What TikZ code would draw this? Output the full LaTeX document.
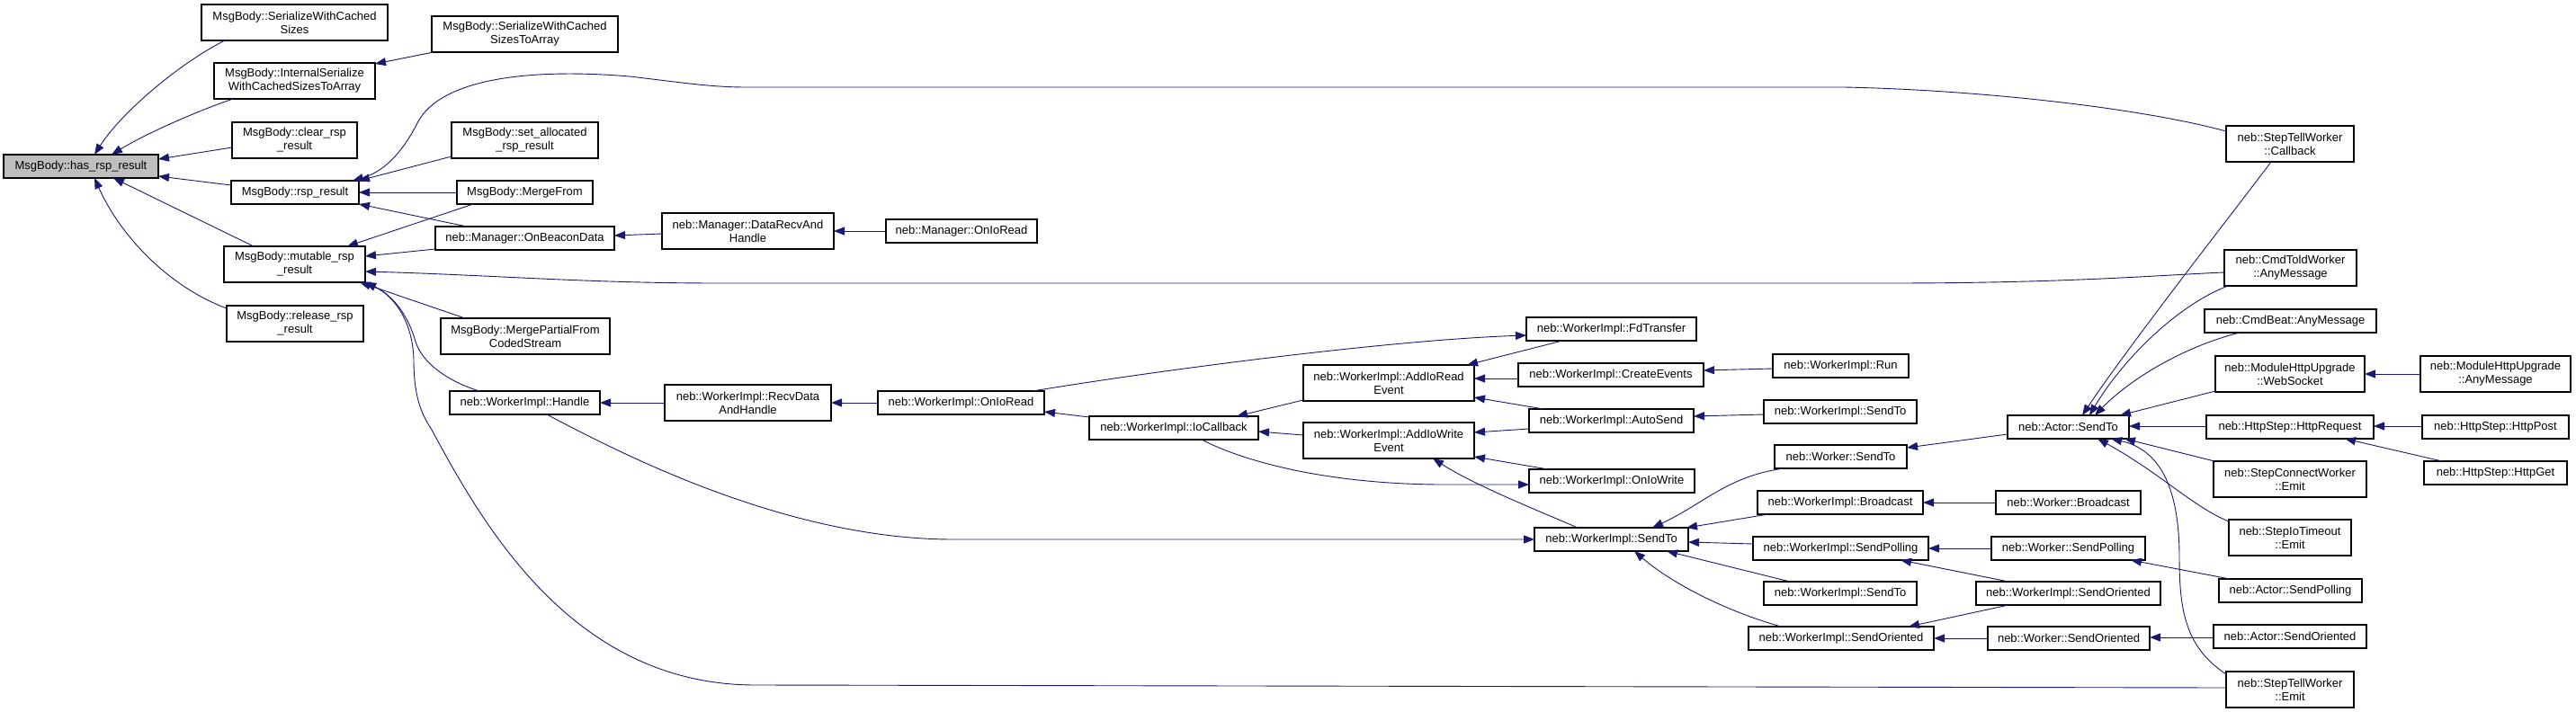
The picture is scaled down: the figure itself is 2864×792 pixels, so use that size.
\documentclass[tikz,border=0pt]{standalone}
\usepackage{fontspec}
\setmainfont{Liberation Sans}
\usetikzlibrary{arrows.meta,calc}
\definecolor{edgeblue}{HTML}{191970}
\definecolor{hilite}{HTML}{BFBFBF}
\tikzset{
 box/.style={draw=black, line width=1.1pt, fill=white, rectangle, inner sep=0pt, outer sep=0pt, align=center, font=\fontsize{13}{15}\selectfont},
 cur/.style={box, fill=hilite},
 edge/.style={draw=edgeblue, line width=0.9pt, {Triangle[length=12pt,width=9pt]}-},
}
\newcommand\nd[7]{\node[#1, minimum width={(#5-#3)*1pt}, minimum height={(#6-#4)*1pt}] (#2) at ({(#3+#5)/2},{(#4+#6)/2}) {#7};}
\begin{document}
\begin{tikzpicture}[x=1pt,y=-1pt]
\fill[white] (0,0) rectangle (2864,792);
\useasboundingbox (0,0) rectangle (2864,792);
\nd{cur}{has}{4}{172}{176}{198}{MsgBody::has\_rsp\_result}
\nd{box}{swcs}{224}{5}{431}{45}{MsgBody::SerializeWithCached\\Sizes}
\nd{box}{isw}{238}{70}{417}{110}{MsgBody::InternalSerialize\\WithCachedSizesToArray}
\nd{box}{clear}{258}{136}{397}{176}{MsgBody::clear\_rsp\\\_result}
\nd{box}{rsp}{257}{201}{399}{227}{MsgBody::rsp\_result}
\nd{box}{mut}{249}{274}{406}{314}{MsgBody::mutable\_rsp\\\_result}
\nd{box}{rel}{252}{340}{404}{380}{MsgBody::release\_rsp\\\_result}
\nd{box}{swcsta}{480}{18}{687}{58}{MsgBody::SerializeWithCached\\SizesToArray}
\nd{box}{setalloc}{502}{136}{665}{176}{MsgBody::set\_allocated\\\_rsp\_result}
\nd{box}{mergefrom}{508}{201}{659}{227}{MsgBody::MergeFrom}
\nd{box}{onbeacon}{484}{252}{683}{278}{neb::Manager::OnBeaconData}
\nd{box}{mergepartial}{490}{354}{678}{394}{MsgBody::MergePartialFrom\\CodedStream}
\nd{box}{handle}{500}{435}{667}{461}{neb::WorkerImpl::Handle}
\nd{box}{datarecv}{736}{237}{927}{277}{neb::Manager::DataRecvAnd\\Handle}
\nd{box}{mgronioread}{985}{244}{1153}{270}{neb::Manager::OnIoRead}
\nd{box}{recvdata}{739}{428}{924}{468}{neb::WorkerImpl::RecvData\\AndHandle}
\nd{box}{wionioread}{976}{435}{1161}{461}{neb::WorkerImpl::OnIoRead}
\nd{box}{iocallback}{1211}{463}{1399}{489}{neb::WorkerImpl::IoCallback}
\nd{box}{fdtransfer}{1697}{353}{1886}{379}{neb::WorkerImpl::FdTransfer}
\nd{box}{addread}{1449}{406}{1639}{446}{neb::WorkerImpl::AddIoRead\\Event}
\nd{box}{createevents}{1688}{404}{1894}{430}{neb::WorkerImpl::CreateEvents}
\nd{box}{run}{1971}{394}{2122}{420}{neb::WorkerImpl::Run}
\nd{box}{autosend}{1700}{455}{1883}{481}{neb::WorkerImpl::AutoSend}
\nd{box}{sendtoa}{1961}{445}{2131}{471}{neb::WorkerImpl::SendTo}
\nd{box}{addwrite}{1449}{470}{1639}{510}{neb::WorkerImpl::AddIoWrite\\Event}
\nd{box}{oniowrite}{1700}{522}{1884}{548}{neb::WorkerImpl::OnIoWrite}
\nd{box}{workersendto}{1973}{495}{2120}{521}{neb::Worker::SendTo}
\nd{box}{wibroadcast}{1954}{546}{2138}{572}{neb::WorkerImpl::Broadcast}
\nd{box}{sendtoc}{1706}{587}{1877}{613}{neb::WorkerImpl::SendTo}
\nd{box}{wisendpolling}{1949}{597}{2144}{623}{neb::WorkerImpl::SendPolling}
\nd{box}{sendtob}{1961}{647}{2131}{673}{neb::WorkerImpl::SendTo}
\nd{box}{wisoa}{1944}{697}{2150}{723}{neb::WorkerImpl::SendOriented}
\nd{box}{actorsendto}{2232}{462}{2367}{488}{neb::Actor::SendTo}
\nd{box}{websocket}{2463}{396}{2629}{436}{neb::ModuleHttpUpgrade\\::WebSocket}
\nd{box}{mhuany}{2691}{396}{2858}{436}{neb::ModuleHttpUpgrade\\::AnyMessage}
\nd{box}{httprequest}{2453}{462}{2639}{488}{neb::HttpStep::HttpRequest}
\nd{box}{httppost}{2693}{462}{2856}{488}{neb::HttpStep::HttpPost}
\nd{box}{httpget}{2695}{513}{2854}{539}{neb::HttpStep::HttpGet}
\nd{box}{stepconnect}{2461}{513}{2631}{553}{neb::StepConnectWorker\\::Emit}
\nd{box}{stepiotimeout}{2478}{578}{2614}{618}{neb::StepIoTimeout\\::Emit}
\nd{box}{workerbroadcast}{2219}{546}{2380}{572}{neb::Worker::Broadcast}
\nd{box}{workersendpolling}{2214}{597}{2385}{623}{neb::Worker::SendPolling}
\nd{box}{wisob}{2197}{647}{2402}{673}{neb::WorkerImpl::SendOriented}
\nd{box}{actorsendpolling}{2467}{644}{2626}{670}{neb::Actor::SendPolling}
\nd{box}{workersendoriented}{2210}{697}{2390}{723}{neb::Worker::SendOriented}
\nd{box}{actorsendoriented}{2461}{695}{2631}{721}{neb::Actor::SendOriented}
\nd{box}{steptellemit}{2475}{747}{2617}{787}{neb::StepTellWorker\\::Emit}
\nd{box}{callback}{2475}{140}{2617}{180}{neb::StepTellWorker\\::Callback}
\nd{box}{cmdtold}{2473}{278}{2620}{318}{neb::CmdToldWorker\\::AnyMessage}
\nd{box}{cmdbeat}{2451}{344}{2642}{370}{neb::CmdBeat::AnyMessage}
% edges
\draw[edge] ($(has.north west)+(101,0)$) .. controls (135,125) and (200,70) .. ($(swcs.north west)+(26,40)$);
\draw[edge] ($(has.north west)+(120,0)$) .. controls (160,150) and (215,125) .. ($(isw.north west)+(21,40)$);
\draw[edge] ($(has.north west)+(172,5)$) -- ($(clear.north west)+(0,28)$);
\draw[edge] ($(has.north west)+(172,24)$) -- ($(rsp.north west)+(0,5)$);
\draw[edge] ($(has.north west)+(122,26)$) -- ($(mut.north west)+(33,0)$);
\draw[edge] ($(has.north west)+(101,26)$) .. controls (135,265) and (190,320) .. ($(rel.north west)+(0,3)$);
\draw[edge] ($(isw.north west)+(179,1)$) -- ($(swcsta.north west)+(2,40)$);
\draw[edge] ($(rsp.north west)+(135,0)$) .. controls (430,190) and (450,165) .. (465,135) .. controls (490,90) and (580,75) .. (700,85) .. controls (760,92) and (790,97) .. (830,97) -- (2050,97) .. controls (2200,100) and (2380,120) .. ($(callback.north west)+(0,6)$);
\draw[edge] ($(rsp.north west)+(142,0)$) -- ($(setalloc.north west)+(0,38)$);
\draw[edge] ($(rsp.north west)+(142,13)$) -- ($(mergefrom.north west)+(0,13)$);
\draw[edge] ($(rsp.north west)+(142,26)$) -- ($(onbeacon.north west)+(35,0)$);
\draw[edge] ($(mut.north west)+(137,0)$) -- ($(mergefrom.north west)+(18,26)$);
\draw[edge] ($(mut.north west)+(157,11)$) -- ($(onbeacon.north west)+(0,25)$);
\draw[edge] ($(mut.north west)+(157,28)$) .. controls (550,306) and (650,315) .. (800,315) -- (2100,315) .. controls (2300,315) and (2400,306) .. ($(cmdtold.north west)+(0,25)$);
\draw[edge] ($(mut.north west)+(151,40)$) -- ($(mergepartial.north west)+(27,0)$);
\draw[edge] ($(mut.north west)+(157,40)$) .. controls (440,330) and (455,355) .. (462,380) .. controls (470,405) and (500,425) .. ($(handle.north west)+(33,0)$);
\draw[edge] ($(mut.north west)+(157,40)$) .. controls (440,330) and (459,360) .. (460,400) .. controls (460,440) and (468,460) .. (480,478) .. controls (540,590) and (640,762) .. (840,762) -- ($(steptellemit.north west)+(0,18)$);
\draw[edge] ($(onbeacon.north west)+(199,10)$) -- ($(datarecv.north west)+(0,23)$);
\draw[edge] ($(datarecv.north west)+(191,20)$) -- ($(mgronioread.north west)+(0,13)$);
\draw[edge] ($(handle.north west)+(167,13)$) -- ($(recvdata.north west)+(0,20)$);
\draw[edge] ($(sendtoc.north west)+(0,13)$) -- (1060,600) .. controls (880,600) and (700,510) .. ($(handle.north west)+(108,26)$);
\draw[edge] ($(recvdata.north west)+(185,20)$) -- ($(wionioread.north west)+(0,13)$);
\draw[edge] ($(wionioread.north west)+(185,23)$) -- ($(iocallback.north west)+(0,1)$);
\draw[edge] ($(fdtransfer.north west)+(0,20)$) .. controls (1550,378) and (1300,410) .. ($(wionioread.north west)+(172,0)$);
\draw[edge] ($(iocallback.north west)+(164,0)$) -- ($(addread.north west)+(0,39)$);
\draw[edge] ($(iocallback.north west)+(188,17)$) -- ($(addwrite.north west)+(0,14)$);
\draw[edge] ($(oniowrite.north west)+(0,17)$) -- (1600,539) .. controls (1470,538) and (1380,512) .. ($(iocallback.north west)+(125,26)$);
\draw[edge] ($(addread.north west)+(182,0)$) -- ($(fdtransfer.north west)+(40,26)$);
\draw[edge] ($(addread.north west)+(190,15)$) -- ($(createevents.north west)+(0,17)$);
\draw[edge] ($(createevents.north west)+(206,8)$) -- ($(run.north west)+(0,16)$);
\draw[edge] ($(addread.north west)+(190,36)$) -- ($(autosend.north west)+(16,0)$);
\draw[edge] ($(addwrite.north west)+(190,11)$) -- ($(autosend.north west)+(0,22)$);
\draw[edge] ($(autosend.north west)+(183,8)$) -- ($(sendtoa.north west)+(0,16)$);
\draw[edge] ($(addwrite.north west)+(190,38)$) -- ($(oniowrite.north west)+(21,0)$);
\draw[edge] ($(addwrite.north west)+(144,40)$) .. controls (1640,540) and (1710,568) .. ($(sendtoc.north west)+(48,0)$);
\draw[edge] ($(sendtoc.north west)+(131,0)$) .. controls (1895,560) and (1920,530) .. ($(workersendto.north west)+(10,26)$);
\draw[edge] ($(sendtoc.north west)+(169,0)$) -- ($(wibroadcast.north west)+(12,26)$);
\draw[edge] ($(sendtoc.north west)+(171,16)$) -- ($(wisendpolling.north west)+(0,8)$);
\draw[edge] ($(sendtoc.north west)+(147,26)$) -- ($(sendtob.north west)+(29,0)$);
\draw[edge] ($(sendtoc.north west)+(111,26)$) .. controls (1860,650) and (1920,680) .. ($(wisoa.north west)+(36,0)$);
\draw[edge] ($(workersendto.north west)+(147,3)$) -- ($(actorsendto.north west)+(0,21)$);
\draw[edge] ($(wibroadcast.north west)+(184,13)$) -- ($(workerbroadcast.north west)+(0,13)$);
\draw[edge] ($(wisendpolling.north west)+(195,13)$) -- ($(workersendpolling.north west)+(0,13)$);
\draw[edge] ($(wisendpolling.north west)+(164,26)$) -- ($(wisob.north west)+(36,0)$);
\draw[edge] ($(wisoa.north west)+(178,0)$) -- ($(wisob.north west)+(36,26)$);
\draw[edge] ($(wisoa.north west)+(206,13)$) -- ($(workersendoriented.north west)+(0,13)$);
\draw[edge] ($(workersendoriented.north west)+(180,12)$) -- ($(actorsendoriented.north west)+(0,14)$);
\draw[edge] ($(workersendpolling.north west)+(155,26)$) -- ($(actorsendpolling.north west)+(12,0)$);
\draw[edge] ($(actorsendto.north west)+(83,0)$) .. controls (2370,380) and (2480,240) .. ($(callback.north west)+(50,40)$);
\draw[edge] ($(actorsendto.north west)+(91,0)$) .. controls (2360,400) and (2420,340) .. ($(cmdtold.north west)+(4,40)$);
\draw[edge] ($(actorsendto.north west)+(97,0)$) .. controls (2370,420) and (2430,385) .. ($(cmdbeat.north west)+(39,26)$);
\draw[edge] ($(actorsendto.north west)+(125,0)$) -- ($(websocket.north west)+(0,39)$);
\draw[edge] ($(actorsendto.north west)+(135,12)$) -- ($(httprequest.north west)+(0,12)$);
\draw[edge] ($(actorsendto.north west)+(130,26)$) -- ($(stepconnect.north west)+(1,0)$);
\draw[edge] ($(actorsendto.north west)+(100,26)$) .. controls (2400,525) and (2440,565) .. ($(stepiotimeout.north west)+(0,2)$);
\draw[edge] ($(actorsendto.north west)+(115,26)$) .. controls (2400,500) and (2423,540) .. (2423,620) .. controls (2423,680) and (2430,720) .. ($(steptellemit.north west)+(0,3)$);
\draw[edge] ($(websocket.north west)+(166,20)$) -- ($(mhuany.north west)+(0,20)$);
\draw[edge] ($(httprequest.north west)+(186,12)$) -- ($(httppost.north west)+(0,12)$);
\draw[edge] ($(httprequest.north west)+(154,26)$) -- ($(httpget.north west)+(20,0)$);
\end{tikzpicture}
\end{document}
